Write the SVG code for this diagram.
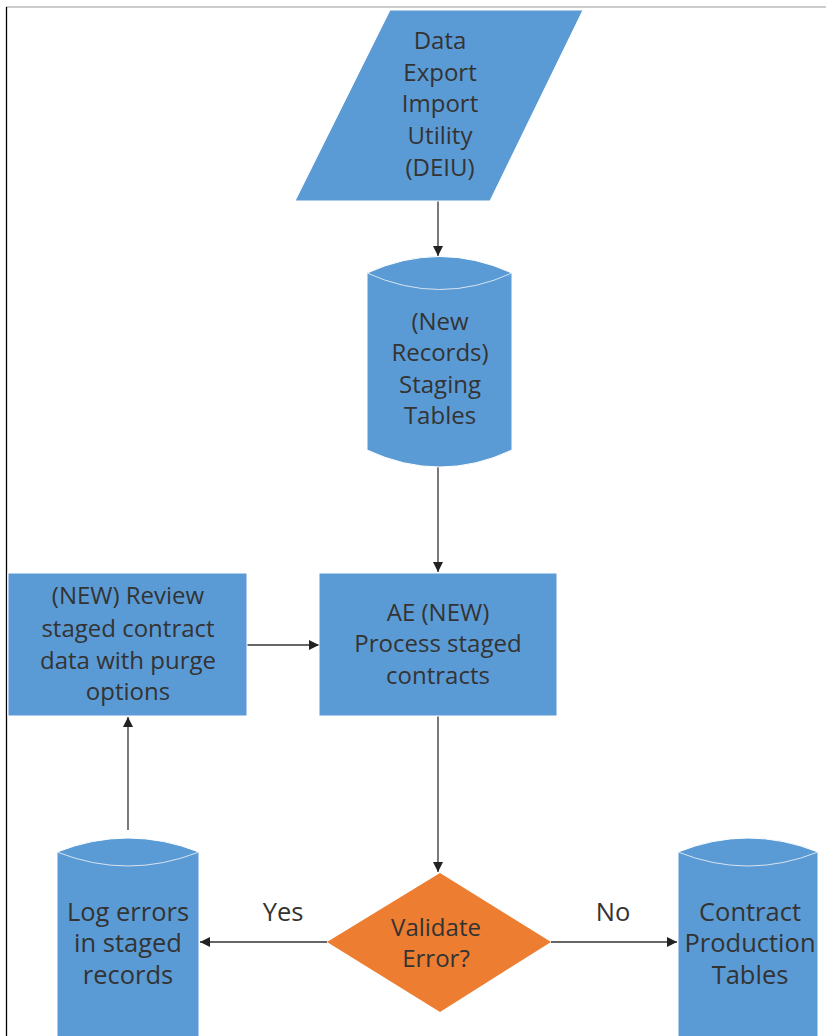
<svg xmlns="http://www.w3.org/2000/svg" width="827" height="1036" viewBox="0 0 827 1036">
<defs>
<marker id="arr" viewBox="0 0 10 10" refX="10" refY="5" markerWidth="10" markerHeight="10" markerUnits="userSpaceOnUse" orient="auto">
<path d="M0,0 L10,5 L0,10 Z" fill="#222"/>
</marker>
</defs>
<style>
.shape{fill:#5B9BD5;stroke:#ffffff;stroke-width:1}
.dec{fill:#ED7D31}
.inner{fill:none;stroke:#d6e4f2;stroke-width:1}
.t{font-family:"Open Sans","Noto Sans",sans-serif;font-size:24px;fill:#333333;text-anchor:middle}
.b{font-size:25.5px}
.c{stroke:#333;stroke-width:1.3;fill:none;marker-end:url(#arr)}
</style>
<rect x="0" y="0" width="827" height="1036" fill="#fff"/>
<line x1="6" y1="7" x2="826" y2="7" stroke="#999" stroke-width="1.2"/>
<line x1="6.5" y1="7" x2="6.5" y2="1036" stroke="#000" stroke-width="1.3"/>

<g id="connectors">
<line class="c" x1="438" y1="201" x2="438" y2="256"/>
<line class="c" x1="438" y1="467" x2="438" y2="572"/>
<line class="c" x1="247" y1="645" x2="319" y2="645"/>
<line class="c" x1="438" y1="716" x2="438" y2="872"/>
<line class="c" x1="327" y1="942" x2="200" y2="942"/>
<line class="c" x1="551" y1="942" x2="677" y2="942"/>
<line class="c" x1="128" y1="830" x2="128" y2="717"/>
<text class="t b" x="283" y="921">Yes</text>
<text class="t b" x="613" y="921">No</text>
</g>

<g id="deiu">
<polygon class="shape" points="390,10 583,10 490,201 295,201"/>
<text class="t" x="440" y="49">Data</text>
<text class="t" x="440" y="81">Export</text>
<text class="t" x="440" y="112">Import</text>
<text class="t" x="440" y="144">Utility</text>
<text class="t" x="440" y="176">(DEIU)</text>
</g>

<g id="staging">
<path class="shape" d="M367,273 Q440,240 512,273 V450 Q440,484 367,450 Z"/>
<path class="inner" d="M367,273 Q440,306 512,273"/>
<text class="t" x="440" y="330">(New</text>
<text class="t" x="440" y="361">Records)</text>
<text class="t" x="440" y="393">Staging</text>
<text class="t" x="440" y="424">Tables</text>
</g>

<g id="review">
<rect class="shape" x="8" y="573" width="239" height="143"/>
<text class="t" x="128" y="604">(NEW) Review</text>
<text class="t" x="128" y="637">staged contract</text>
<text class="t" x="128" y="669">data with purge</text>
<text class="t" x="128" y="700">options</text>
</g>

<g id="process">
<rect class="shape" x="319" y="573" width="238" height="143"/>
<text class="t" x="438" y="621">AE (NEW)</text>
<text class="t" x="438" y="652">Process staged</text>
<text class="t" x="438" y="684">contracts</text>
</g>

<g id="validate">
<polygon class="dec" points="440,873 551,942 440,1012 327,942"/>
<text class="t" x="436" y="936">Validate</text>
<text class="t" x="436" y="967">Error?</text>
</g>

<g id="logerrors">
<path class="shape" d="M57,852 Q128,824 199,852 V1040 H57 Z"/>
<path class="inner" d="M57,852 Q128,880 199,852"/>
<text class="t b" x="128" y="921">Log errors</text>
<text class="t b" x="128" y="952">in staged</text>
<text class="t b" x="128" y="984">records</text>
</g>

<g id="production">
<path class="shape" d="M678,852 Q748,824 818,852 V1040 H678 Z"/>
<path class="inner" d="M678,852 Q748,880 818,852"/>
<text class="t b" x="750" y="921">Contract</text>
<text class="t b" x="750" y="952">Production</text>
<text class="t b" x="750" y="984">Tables</text>
</g>
</svg>
